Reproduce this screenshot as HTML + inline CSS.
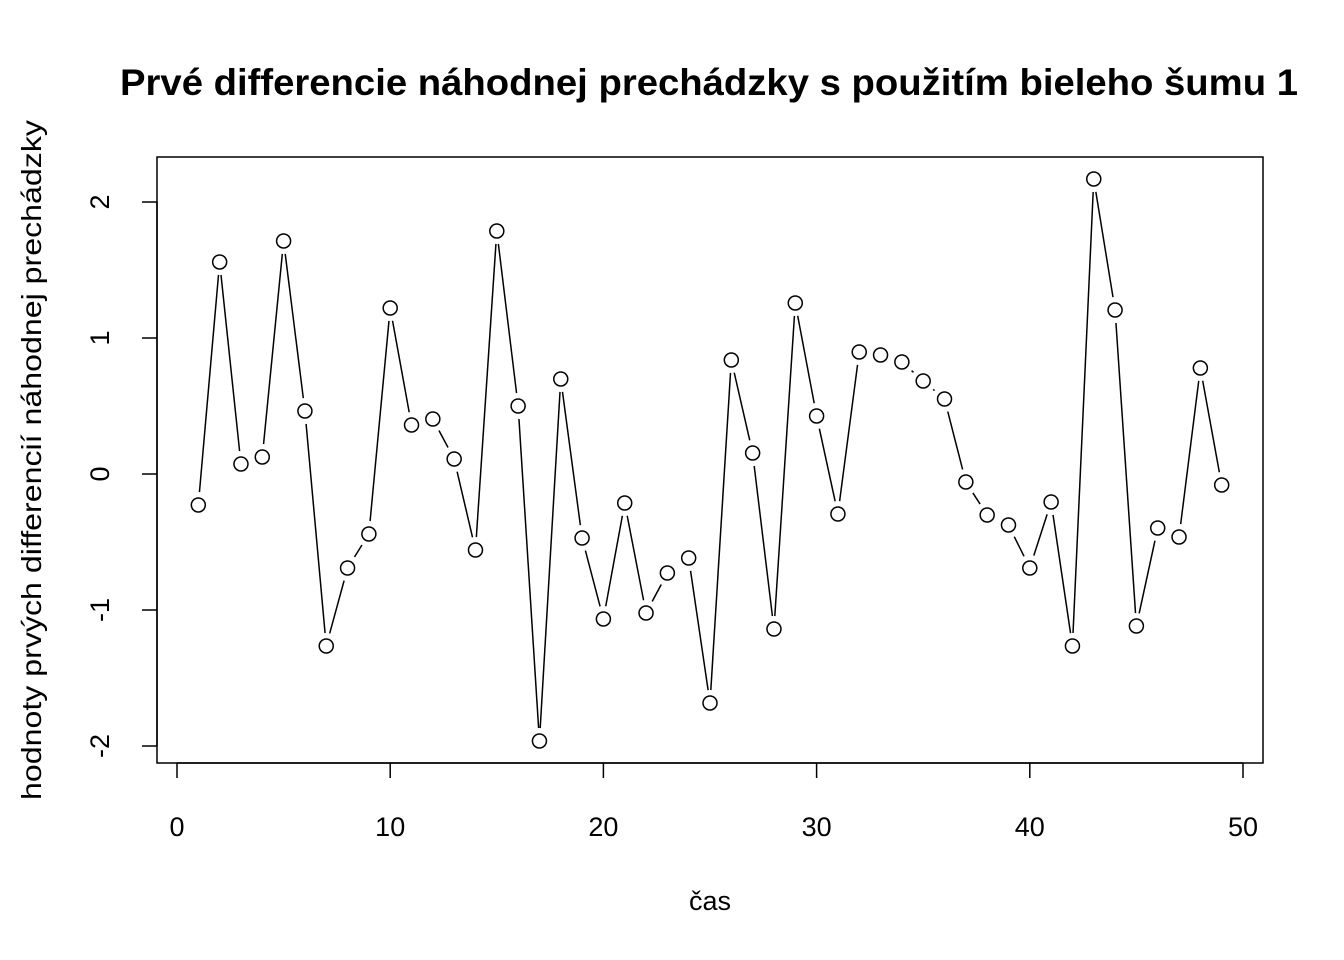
<!DOCTYPE html>
<html><head><meta charset="utf-8"><style>body{margin:0;background:#fff}svg{display:block}</style></head>
<body>
<svg id="s" width="1344" height="960" xmlns="http://www.w3.org/2000/svg" font-family="Liberation Sans, Arial, sans-serif">
<rect width="1344" height="960" fill="#fff"/>
<text x="709" y="95" font-size="37" font-weight="bold" text-anchor="middle" textLength="1178" lengthAdjust="spacingAndGlyphs">Prvé differencie náhodnej prechádzky s použitím bieleho šumu 1</text>
<rect x="157" y="157" width="1106" height="606" fill="none" stroke="#000" stroke-width="1.5"/>
<g stroke="#000" stroke-width="1.5">
<line x1="177" y1="763" x2="1243" y2="763"/>
<line x1="177" y1="763" x2="177" y2="778"/><line x1="390.2" y1="763" x2="390.2" y2="778"/><line x1="603.4" y1="763" x2="603.4" y2="778"/><line x1="816.6" y1="763" x2="816.6" y2="778"/><line x1="1029.8" y1="763" x2="1029.8" y2="778"/><line x1="1243" y1="763" x2="1243" y2="778"/>
<line x1="157" y1="202" x2="157" y2="746"/>
<line x1="142" y1="202" x2="157" y2="202"/><line x1="142" y1="338" x2="157" y2="338"/><line x1="142" y1="474" x2="157" y2="474"/><line x1="142" y1="610" x2="157" y2="610"/><line x1="142" y1="746" x2="157" y2="746"/>
</g>
<g font-size="27" text-anchor="middle">
<text x="177" y="836">0</text><text x="390.2" y="836">10</text><text x="603.4" y="836">20</text><text x="816.6" y="836">30</text><text x="1029.8" y="836">40</text><text x="1243" y="836">50</text>
<text transform="translate(109,202) rotate(-90)">2</text>
<text transform="translate(109,338) rotate(-90)">1</text>
<text transform="translate(109,474) rotate(-90)">0</text>
<text transform="translate(109,610) rotate(-90)">-1</text>
<text transform="translate(109,746) rotate(-90)">-2</text>
<text x="710" y="910">čas</text>
<text transform="translate(41,460) rotate(-90)" font-size="28" textLength="680" lengthAdjust="spacingAndGlyphs">hodnoty prvých differencií náhodnej prechádzky</text>
</g>
<g id="d" stroke="#000" stroke-width="1.5" fill="none"></g>
</svg>
<script>
var ys=[505,262,464,457,241,411,646,568,534,308,425,419,459,550,231,406,741,379,538,619,503,613,573,558,703,360,453,629,303,416,514,352,355,362,381,399,482,515,525,568,502,646,179,310,626,528,537,368,485];
var g=document.getElementById('d'),h='',gap=13;
for(var i=0;i<ys.length;i++){var x=177+21.32*(i+1),y=ys[i];
h+='<circle cx="'+x+'" cy="'+y+'" r="7"/>';
if(i<ys.length-1){var x2=x+21.32,y2=ys[i+1],dx=x2-x,dy=y2-y,L=Math.hypot(dx,dy);
if(L>2*gap){var ux=dx/L,uy=dy/L;h+='<line x1="'+(x+ux*gap)+'" y1="'+(y+uy*gap)+'" x2="'+(x2-ux*gap)+'" y2="'+(y2-uy*gap)+'"/>';}}}
g.innerHTML=h;
</script>
</body></html>
